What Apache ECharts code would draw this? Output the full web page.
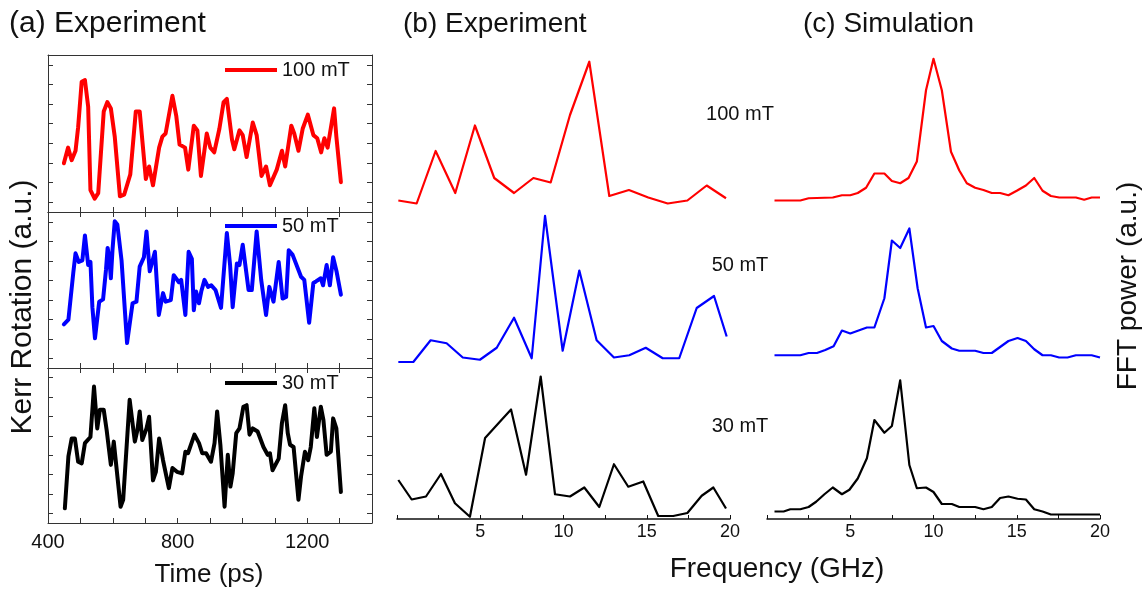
<!DOCTYPE html>
<html><head><meta charset="utf-8">
<script src="https://cdn.jsdelivr.net/npm/echarts@6/dist/echarts.min.js"></script>
<style>html,body{margin:0;padding:0;background:#fff}#c{width:1144px;height:592px}</style>
</head><body><div id="c"></div>
<script>
const FONT = '"Liberation Sans", Arial, Helvetica, sans-serif';

// ---------- DATA ----------
const fieldLabels = ['100 mT', '50 mT', '30 mT'];
const timeTickLabels = [400, 800, 1200];
const freqTickLabels = [5, 10, 15, 20];
const kerrTicks = [0.625, 1.875, 3.125, 4.375, 5.625, 6.875, 8.125, 9.375];

// (a) Kerr rotation vs time (ps), arbitrary units
const kerr100 = [[449,3.1],[462,4.1],[473,3.3],[485,3.9],[493,5.4],[504,8.3],[514,8.4],[524,6.7],[531,1.4],[544,0.85],[555,1.2],[572,6.4],[583,7.0],[594,6.6],[606,4.8],[622,1.0],[635,1.1],[654,2.4],[671,6.4],[683,6.4],[702,2.1],[712,2.9],[724,1.7],[743,4.1],[753,4.8],[763,5.0],[784,7.4],[796,6.1],[806,4.3],[823,4.1],[833,2.7],[850,5.5],[861,5.2],[872,2.3],[890,5.0],[901,4.1],[913,3.8],[929,5.3],[942,7.0],[952,7.2],[968,4.6],[975,4.0],[991,5.2],[1001,4.9],[1013,3.5],[1032,5.7],[1044,4.9],[1059,2.3],[1073,2.9],[1085,1.7],[1106,2.7],[1122,3.9],[1132,2.9],[1151,5.5],[1160,5.0],[1173,3.9],[1186,5.3],[1202,6.2],[1219,4.9],[1231,4.7],[1243,3.8],[1253,4.7],[1263,4.1],[1283,6.6],[1290,4.8],[1304,1.9]];
const kerr50 = [[449,2.8],[463,3.1],[478,6.1],[485,7.35],[495,6.8],[506,6.9],[514,8.5],[524,6.6],[531,6.8],[537,3.9],[545,1.9],[558,4.25],[570,4.4],[579,6.3],[584,7.7],[589,7.1],[594,5.75],[599,7.55],[606,9.4],[614,9.2],[627,6.9],[644,1.6],[661,4.15],[673,4.25],[683,6.5],[696,7.1],[704,8.75],[714,6.2],[730,7.45],[742,3.4],[755,4.8],[763,4.25],[779,4.35],[788,5.95],[804,5.5],[811,5.65],[824,3.4],[834,7.45],[844,7.0],[850,3.7],[857,4.9],[866,4.15],[873,4.9],[883,5.65],[894,5.2],[904,5.3],[917,5.0],[934,3.85],[952,8.65],[962,6.6],[970,3.9],[983,6.7],[991,6.6],[1001,7.9],[1019,5.0],[1029,5.0],[1044,8.75],[1058,5.65],[1073,3.4],[1083,5.2],[1096,4.25],[1112,6.8],[1124,4.45],[1135,4.55],[1143,7.55],[1155,7.25],[1181,5.85],[1191,5.65],[1206,2.9],[1219,5.45],[1227,5.55],[1242,5.75],[1249,5.3],[1260,6.6],[1270,5.3],[1280,7.1],[1291,6.15],[1304,4.7]];
const kerr30 = [[452,0.95],[463,4.3],[473,5.45],[483,5.45],[493,3.95],[504,3.85],[514,5.15],[531,5.55],[542,8.8],[552,6.1],[560,7.3],[572,7.3],[581,6.0],[594,3.75],[603,5.25],[611,3.65],[624,1.05],[632,1.5],[652,7.95],[668,5.25],[676,6.0],[683,7.2],[691,5.35],[704,6.1],[712,6.85],[724,2.75],[733,3.3],[743,5.45],[755,4.05],[773,2.25],[784,3.55],[798,3.3],[814,3.2],[824,4.6],[832,4.5],[852,5.7],[866,5.15],[876,4.5],[888,4.5],[903,3.95],[914,5.15],[922,7.2],[932,5.05],[945,1.05],[955,4.4],[963,2.35],[970,3.2],[981,5.8],[991,6.1],[1003,7.5],[1013,7.6],[1022,5.7],[1032,6.1],[1047,5.9],[1065,4.9],[1078,4.4],[1085,4.5],[1093,3.4],[1112,4.15],[1122,6.45],[1132,7.6],[1140,5.8],[1147,5.05],[1158,4.9],[1173,1.5],[1181,3.0],[1193,4.6],[1203,4.05],[1211,4.9],[1222,7.4],[1230,5.55],[1242,7.5],[1250,6.65],[1260,4.4],[1273,4.6],[1280,6.75],[1290,6.1],[1304,2.0]];

// (b) Experiment FFT power vs frequency (GHz)
const specB100 = [[0.08,0.3],[1.18,0.1],[2.32,3.6],[3.5,0.8],[4.68,5.3],[5.84,1.8],[7.03,0.8],[8.19,1.8],[9.23,1.5],[10.39,6.0],[11.55,9.55],[12.75,0.6],[13.93,1.0],[15.09,0.5],[16.26,0.1],[17.44,0.3],[18.6,1.3],[19.76,0.45]];
const specB50 = [[0.08,0],[0.98,0],[2.02,1.45],[2.98,1.25],[3.95,0.3],[4.98,0.15],[5.99,0.95],[7.03,2.95],[8.09,0.25],[8.89,9.75],[9.95,0.75],[10.95,6.1],[11.99,1.45],[13.03,0.3],[13.95,0.45],[14.94,0.95],[15.96,0.25],[16.95,0.25],[18.0,3.6],[19.04,4.4],[19.8,1.7]];
const specB30 = [[0.08,2.6],[0.88,1.3],[1.74,1.5],[2.64,3.0],[3.48,1.05],[4.38,0.15],[5.29,5.4],[6.19,6.5],[6.85,7.3],[7.75,2.95],[8.63,9.5],[9.49,1.65],[10.39,1.5],[11.25,2.1],[12.15,0.8],[13.03,3.65],[13.89,2.15],[14.79,2.5],[15.69,0.2],[16.59,0.2],[17.44,0.4],[18.3,1.55],[19.0,2.1],[19.76,0.7]];

// (c) Simulation FFT power vs frequency (GHz)
const specC100 = [[0.45,0.3],[2.0,0.3],[2.5,0.45],[3.95,0.5],[4.5,0.65],[5.0,0.65],[5.45,0.8],[5.95,1.15],[6.45,2.1],[7.05,2.1],[7.5,1.6],[8.0,1.45],[8.5,1.8],[9.0,2.9],[9.55,7.65],[10.0,9.75],[10.5,7.65],[11.05,3.55],[11.55,2.3],[12.0,1.45],[12.5,1.15],[13.0,1.0],[13.5,0.8],[14.0,0.8],[14.5,0.65],[15.0,0.95],[15.55,1.3],[16.05,1.8],[16.55,0.95],[17.05,0.6],[17.55,0.5],[18.55,0.5],[19.05,0.35],[19.5,0.5],[20.0,0.5]];
const specC50 = [[0.45,0.45],[2.0,0.45],[2.5,0.6],[3.0,0.6],[3.5,0.8],[4.0,1.05],[4.5,2.1],[5.0,1.9],[5.5,2.1],[6.0,2.3],[6.45,2.3],[7.05,4.25],[7.5,8.1],[8.0,7.6],[8.55,8.9],[9.05,4.9],[9.55,2.3],[10.0,2.4],[10.5,1.4],[11.1,0.9],[11.55,0.75],[12.5,0.75],[13.0,0.6],[13.5,0.6],[14.0,1.0],[14.5,1.4],[15.05,1.6],[15.55,1.4],[16.05,0.85],[16.55,0.45],[17.05,0.45],[17.55,0.3],[18.05,0.3],[18.55,0.45],[19.5,0.45],[20.0,0.3]];
const specC30 = [[0.45,0.5],[1.0,0.5],[1.4,0.65],[2.0,0.65],[2.5,0.8],[2.95,1.15],[3.45,1.65],[3.95,2.1],[4.5,1.65],[4.95,1.95],[5.45,2.7],[6.0,4.05],[6.45,6.6],[7.05,5.75],[7.5,6.2],[8.0,9.25],[8.55,3.6],[9.0,2.05],[9.55,2.1],[10.0,1.8],[10.5,1.0],[11.1,1.0],[11.55,0.8],[12.5,0.8],[13.0,0.65],[13.5,0.8],[14.0,1.4],[14.5,1.5],[15.05,1.35],[15.55,1.3],[16.05,0.65],[16.55,0.5],[17.05,0.3],[20.0,0.3]];

// ---------- LAYOUT / STYLE ----------
const colors = ['#ff0000', '#0000ff', '#000000'];
const kerrData = [kerr100, kerr50, kerr30];
const specData = [[specB100, specB50, specB30], [specC100, specC50, specC30]];
const aRows = [{top:55,height:157},{top:212,height:156},{top:368,height:155}];
const fRowTops = [55, 212, 369];
const fCols = [397, 767];
const TXT = '#111';
const FRAME = '#333';

const grid = [], xAxis = [], yAxis = [], series = [], legend = [];

// panel (a)
aRows.forEach((r, i) => {
  grid.push({left:48, top:r.top, width:324, height:r.height, containLabel:false});
  const xb = xAxis.length;
  const base = {gridIndex:i, type:'value', min:400, max:1400, interval:100,
    axisLine:{show:true, onZero:false, lineStyle:{color:FRAME, width:1}},
    axisTick:{show:true, inside:true, length:5, lineStyle:{color:FRAME}},
    splitLine:{show:false}};
  xAxis.push(Object.assign({}, base, {position:'bottom',
    axisLabel:{show:i===2, fontSize:20, color:TXT, fontFamily:FONT, margin:9,
      formatter:v => timeTickLabels.includes(v) ? String(v) : ''}}));
  xAxis.push(Object.assign({}, base, {position:'top', axisLabel:{show:false},
    axisTick:{show:i>0, inside:true, length:5, lineStyle:{color:FRAME}}}));
  const yl = yAxis.length;
  const ybase = {gridIndex:i, type:'value', min:0, max:10,
    axisLine:{show:true, onZero:false, lineStyle:{color:FRAME, width:1}},
    axisTick:{show:true, inside:true, length:5, customValues:kerrTicks, lineStyle:{color:FRAME}},
    axisLabel:{show:false}, splitLine:{show:false}};
  yAxis.push(Object.assign({}, ybase, {position:'left'}));
  yAxis.push(Object.assign({}, ybase, {position:'right'}));
  series.push({type:'line', name:fieldLabels[i], xAxisIndex:xb, yAxisIndex:yl,
    data:kerrData[i], symbol:'none', showSymbol:false, animation:false,
    lineStyle:{color:colors[i], width:4, join:'round', cap:'round'}, itemStyle:{color:colors[i]}});
});
const legendTops = [60, 216, 373];
fieldLabels.forEach((name, i) => {
  legend.push({data:[name], left:225, top:legendTops[i], padding:0, icon:'rect',
    itemWidth:52, itemHeight:4, selectedMode:false,
    textStyle:{fontSize:20, color:TXT, fontFamily:FONT}});
});

// panels (b) and (c)
fCols.forEach((left, c) => {
  fRowTops.forEach((top, r) => {
    const gi = grid.length;
    grid.push({left:left, top:top, width:333, height:150});
    const xi = xAxis.length;
    xAxis.push({gridIndex:gi, type:'value', min:0, max:20, interval:2.5, show:r===2,
      position:'bottom',
      axisLine:{show:true, onZero:false, lineStyle:{color:TXT, width:1.5}},
      axisTick:{show:true, inside:true, length:4, lineStyle:{color:TXT}},
      axisLabel:{fontSize:18, color:TXT, fontFamily:FONT, margin:4,
        formatter:v => freqTickLabels.includes(v) ? String(v) : ''},
      splitLine:{show:false}});
    const yi = yAxis.length;
    yAxis.push({gridIndex:gi, type:'value', min:0, max:10, show:false, splitLine:{show:false}});
    series.push({type:'line', name:(c===0?'exp ':'sim ')+fieldLabels[r], xAxisIndex:xi, yAxisIndex:yi,
      data:specData[c][r], symbol:'none', showSymbol:false, animation:false,
      lineStyle:{color:colors[r], width:2.2, join:'round'}});
  });
});

function txt(text, x, y, size, opts) {
  return Object.assign({type:'text', x:x, y:y, silent:true,
    style:{text:text, fontSize:size, fontFamily:FONT, fill:TXT,
      align:(opts && opts.align) || 'center', verticalAlign:'middle'}},
    opts && opts.rotation ? {rotation:opts.rotation} : {});
}
const graphic = [
  txt('(a) Experiment', 9, 24, 30, {align:'left'}),
  txt('(b) Experiment', 403, 24, 28, {align:'left'}),
  txt('(c) Simulation', 803, 24, 28, {align:'left'}),
  txt(fieldLabels[0], 740, 114, 20),
  txt(fieldLabels[1], 740, 265, 20),
  txt(fieldLabels[2], 740, 426, 20),
  txt('Kerr Rotation (a.u.)', 23, 307, 30, {rotation:Math.PI/2}),
  txt('FFT power (a.u.)', 1128, 286, 28, {rotation:Math.PI/2}),
  txt('Time (ps)', 209, 575, 26),
  txt('Frequency (GHz)', 777, 569, 28)
];

const chart = echarts.init(document.getElementById('c'), null, {renderer:'canvas'});
chart.setOption({
  animation:false,
  backgroundColor:'#ffffff',
  textStyle:{fontFamily:FONT},
  grid, xAxis, yAxis, series, legend, graphic
});
</script></body></html>
